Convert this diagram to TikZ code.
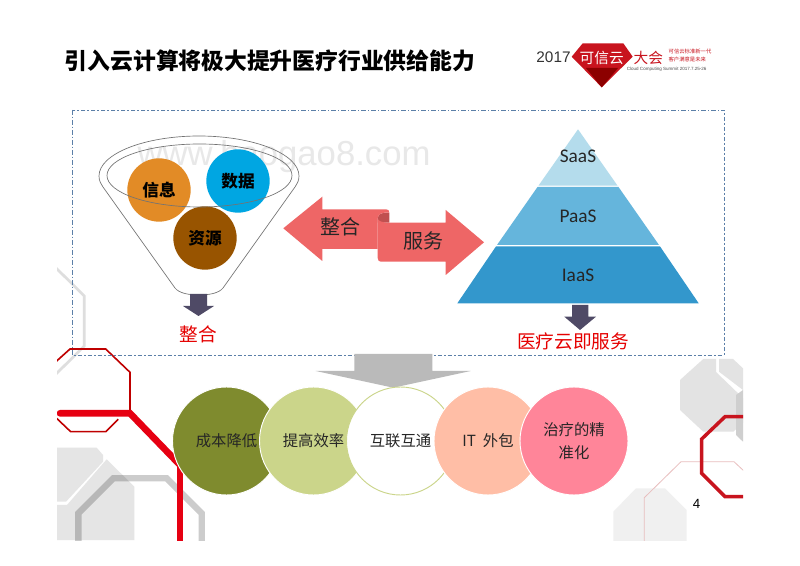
\documentclass[tikz,border=0pt]{standalone}
\usepackage{fontspec}
\setmainfont{Noto Sans CJK SC}
\newfontfamily\latinfont{Liberation Sans}
\newfontfamily\calfont{Carlito}
\usepackage{tikz}
\definecolor{logored}{HTML}{C8141E}
\definecolor{boxblue}{HTML}{5B7FA8}
\definecolor{scrollred}{HTML}{EE6666}
\definecolor{scrolldark}{HTML}{C05050}
\definecolor{downarrow}{HTML}{4F4A66}
\definecolor{linered}{HTML}{E60012}
\definecolor{ballorange}{HTML}{E28B26}
\definecolor{ballblue}{HTML}{00A6E2}
\definecolor{ballbrown}{HTML}{985400}
\definecolor{pyrtop}{HTML}{B4DCEC}
\definecolor{pyrmid}{HTML}{65B5DC}
\definecolor{pyrlow}{HTML}{3397CC}
\definecolor{bubolive}{HTML}{7F8B2E}
\definecolor{bubgreen}{HTML}{CBD58A}
\definecolor{bubpeach}{HTML}{FFBEA6}
\definecolor{bubpink}{HTML}{FF8599}
\definecolor{thinpink}{HTML}{E8BEBE}
\tikzset{
  ball/.style={circle, inner sep=0pt, minimum size=47.5pt, font=\fontsize{12.5pt}{14pt}\selectfont\bfseries},
  bubble/.style={circle, inner sep=0pt, minimum size=81pt, draw=white, line width=0.7pt, align=center, font=\fontsize{11.5pt}{17pt}\selectfont, text=black!85},
  layer/.style={font=\calfont\fontsize{14.5pt}{16pt}\selectfont, text=black!85},
  redlabel/.style={text=red!90!black, font=\fontsize{14pt}{16pt}\selectfont},
  smalllogo/.style={text=logored, inner sep=0pt, font=\fontsize{4pt}{4.5pt}\selectfont}
}
\begin{document}
\begin{tikzpicture}[x=0.75pt, y=-0.75pt]
    \useasboundingbox (0,0) rectangle (800,566);
    \fill[white] (0,0) rectangle (800,566);

    % BACKGROUND: octagons, cut at the slide edge
    \begin{scope}
        \clip (57,0) rectangle (743,540);
        \fill[black!10] (57,447.7) -- (96.7,447.7) -- (103,455) -- (103,461.7) -- (66,501.7) -- (57,501.7) -- cycle;
        \fill[black!10] (106.7,459.3) -- (134.3,486.7) -- (134.3,540) -- (57,540) -- (57,505) -- (67,505) -- cycle;
        \draw[black, opacity=0.2, line width=4.8pt] (78.3,545) -- (78.3,513.3) -- (113.3,478.3) -- (166.7,478.3) -- (201.7,513.3) -- (201.7,545);
        \draw[black!13, line width=2pt] (50,262) -- (84.3,296) -- (84.3,346) -- (50,380);
        \draw[red!75!black, line width=1.2pt] (50,367) -- (70,349) -- (105.7,349) -- (130,372.3) -- (130,413);
        \draw[red!75!black, line width=1.2pt] (50,412) -- (70.7,431.7) -- (105.7,431.7) -- (118.3,419.3);
        \draw[linered, line width=5pt, line cap=round] (60,413.3) -- (130,413.3) -- (180,465);
        \draw[linered, line width=5pt] (180,465) -- (180,545);
        % right side
        \fill[black!11] (680,380) -- (703.3,359) -- (716,359) -- (716,372) -- (743,398) -- (743,423) -- (733.3,431.7) -- (703.3,431.7) -- (680,410) -- cycle;
        \fill[black!11] (719,359) -- (733,359) -- (743,368.3) -- (743,390) -- (719,371.7) -- cycle;
        \fill[black!19] (736,395) -- (743,390) -- (743,441.7) -- (736,435) -- cycle;
        \fill[black!6] (613.3,545) -- (613.3,511.7) -- (636,488.3) -- (665,488.3) -- (686.7,510) -- (686.7,545) -- cycle;
        \draw[thinpink, line width=0.6pt] (644.3,545) -- (644.3,497.7) -- (681,461.7) -- (734,461.7) -- (745,472);
        \draw[logored, line width=2.6pt] (745,416.7) -- (725,416.7) -- (701.7,439) -- (701.7,473.3) -- (725,496.7) -- (745,496.7);
    \end{scope}

    % TITLE
    \node (title) at (270,61) {\fontsize{17.1pt}{20pt}\selectfont\bfseries 引入云计算将极大提升医疗行业供给能力};

    % LOGO
    \node[font=\latinfont\fontsize{11.5pt}{13pt}\selectfont, text=black!80, inner sep=0pt] (year) at (553.5,57.3) {2017};
    \fill[logored] (571.7,56.7) -- (582.7,43.3) -- (623.3,43.3) -- (632.7,56.7) -- (601.7,87.3) -- cycle;
    \fill[red!55!black] (586,68) -- (618,68) -- (601.7,87.3) -- cycle;
    \node[text=white, inner sep=0pt, font=\fontsize{11pt}{12pt}\selectfont] (logoa) at (601.7,58.3) {可信云};
    \node[text=logored, inner sep=0pt, font=\fontsize{11pt}{12pt}\selectfont] (logob) at (648.3,58.3) {大会};
    \node[smalllogo] (logoc) at (690,51.5) {可信云标准新一代};
    \node[smalllogo] (logod) at (687.3,59.8) {客户满意是未来};
    \node[text=black!70, inner sep=0pt, font=\latinfont\fontsize{3.4pt}{4pt}\selectfont] (logoe) at (666.7,69.5) {Cloud Computing Summit 2017.7.25-26};

    % DASHED FRAME
    \draw[boxblue, line width=0.6pt, dash pattern=on 3.5pt off 1.5pt on 1pt off 1.5pt] (72.5,110) rectangle (724,355);
    \node[text=black!9, font=\latinfont\fontsize{26pt}{28pt}\selectfont] (mark) at (284,157) {www.baogao8.com};

    % LEFT: funnel with three balls
    \node[ball, fill=ballorange] (info) at (159,190) {信息};
    \node[ball, fill=ballblue] (data) at (238,181) {数据};
    \node[ball, fill=ballbrown] (res) at (205,238) {资源};
    \draw[black!55, line width=0.5pt] (99,176) .. controls (99,154) and (144,136) .. (199,136) .. controls (254,136) and (299,154) .. (299,176) .. controls (299,181) and (297,184) .. (295,187) -- (223,288) .. controls (219,293) and (210,295) .. (199,295) .. controls (188,295) and (179,293) .. (175,288) -- (103,187) .. controls (101,184) and (99,181) .. (99,176) -- cycle;
    \draw[black!55, line width=0.5pt] (199.5,175.5) ellipse (92.5 and 31.5);
    \fill[downarrow] (190,294) -- (207,294) -- (207,306) -- (214,306) -- (198.5,316) -- (183,306) -- (190,306) -- cycle;
    \node[redlabel] (merge) at (198,334) {整合};

    % MIDDLE: scroll arrows
    \fill[scrolldark] (377.7,218.3) .. controls (378,214) and (382,212) .. (389.3,212.7) -- (389.3,222.7) -- (377.7,222.7) -- cycle;
    \fill[scrollred] (283.3,228.3) -- (322.3,196.7) -- (322.3,209.3) -- (386,209.3) .. controls (388.3,209.3) and (389.3,210.5) .. (389.3,212.7) .. controls (382,212) and (378,214) .. (377.7,218.3) -- (377.7,249) -- (322.3,249) -- (322.3,261) -- cycle;
    \fill[scrollred] (484,242.3) -- (445.7,210) -- (445.7,222.7) -- (389.3,222.7) .. controls (382,222.7) and (378,221) .. (377.7,218.3) -- (377.7,258) .. controls (377.7,260.5) and (379,261.7) .. (381,261.7) -- (445.7,261.7) -- (445.7,275) -- cycle;
    \node[font=\fontsize{15pt}{17pt}\selectfont, text=black!85] (joinleft) at (340.7,227.3) {整合};
    \node[font=\fontsize{15pt}{17pt}\selectfont, text=black!85] (serve) at (423,240.7) {服务};

    % RIGHT: pyramid
    \fill[pyrtop] (578,129.3) -- (617.5,185.6) -- (538.5,185.6) -- cycle;
    \fill[pyrmid] (537.5,187) -- (618.5,187) -- (659,245) -- (497,245) -- cycle;
    \fill[pyrlow] (496,246.4) -- (660,246.4) -- (698.7,303.3) -- (457.3,303.3) -- cycle;
    \node[layer] (saas) at (578,156.7) {SaaS};
    \node[layer] (paas) at (578,216.7) {PaaS};
    \node[layer] (iaas) at (578,275) {IaaS};
    \fill[downarrow] (572,305) -- (588.3,305) -- (588.3,316.7) -- (596,316.7) -- (580,330) -- (564.3,316.7) -- (572,316.7) -- cycle;
    \node[redlabel] (cloud) at (573.3,341.7) {医疗云即服务};

    % BOTTOM: big arrow and bubbles
    \fill[black!27] (354.3,354) -- (432.3,354) -- (432.3,371) -- (470.7,371) -- (393.3,387.7) -- (315.7,371) -- (354.3,371) -- cycle;
    \node[bubble, fill=bubolive] (cost) at (226.5,441) {成本降低};
    \node[bubble, fill=bubgreen] (speed) at (313.5,441) {提高效率};
    \node[bubble, fill=white, draw=bubgreen] (link) at (400.5,441) {互联互通};
    \node[bubble, fill=bubpeach] (outs) at (488,441) {IT\ \ 外包};
    \node[bubble, fill=bubpink] (care) at (574,441) {治疗的精\\准化};
    \node[font=\latinfont\fontsize{10pt}{12pt}\selectfont] (pageno) at (696.7,504.3) {4};
\end{tikzpicture}
\end{document}
